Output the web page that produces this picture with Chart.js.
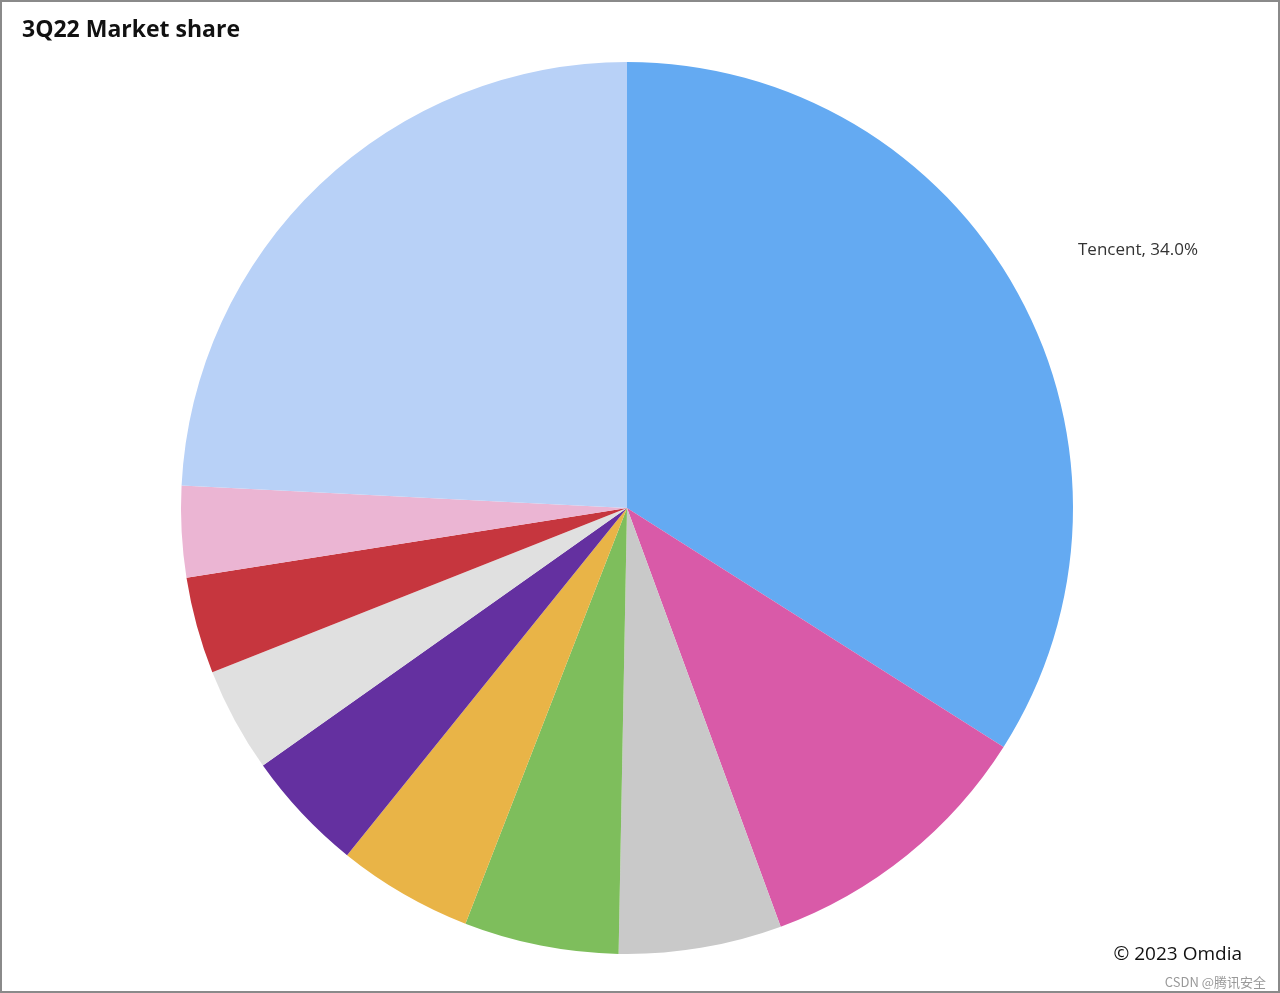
<!DOCTYPE html>
<html><head><meta charset="utf-8">
<script src="https://cdn.jsdelivr.net/npm/chart.js@4/dist/chart.umd.min.js"></script>
<style>
html,body{margin:0;padding:0;background:#fff;}
#wrap{position:relative;width:1280px;height:993px;box-sizing:border-box;border:2px solid #8a8a8a;}
#t{position:absolute;left:20px;top:10px;font:bold 23px "Open Sans",Lato,sans-serif;color:#111;}
#c{position:absolute;right:36px;top:938px;font:19px "Open Sans",sans-serif;color:#111;}
#w{position:absolute;right:12px;top:970px;font:13px "Noto Sans CJK SC",sans-serif;color:#999;}
canvas{position:absolute;left:0;top:0;}
</style></head><body>
<div id="wrap"><canvas id="ch" width="1276" height="989"></canvas>
<div id="t">3Q22 Market share</div><div id="c">© 2023 Omdia</div><div id="w">CSDN @腾讯安全</div></div>
<script>
const categories=["Tencent","Other 1","Other 2","Other 3","Other 4","Other 5","Other 6","Other 7","Other 8","Others"];
const shares=[34.0,10.4,5.9,5.6,4.9,4.4,3.8,3.5,3.3,24.2];
const colors=["#64aaf2","#d95aa8","#c9c9c9","#7ebe5c","#e9b447","#6430a0","#e0e0e0","#c6363e","#ebb5d3","#b8d1f7"];
const labelPlugin={id:"lbl",afterDatasetsDraw(chart){
 const a=chart.getDatasetMeta(0).data[0];const ctx=chart.ctx;
 const mid=(a.startAngle+a.endAngle)/2, r=a.outerRadius*1.2;
 ctx.save();ctx.font='17px "Open Sans",sans-serif';ctx.fillStyle="#333";ctx.textAlign="left";ctx.textBaseline="middle";
 ctx.fillText(categories[0]+", "+shares[0].toFixed(1)+"%",a.x+Math.cos(mid)*r-18,a.y+Math.sin(mid)*r);ctx.restore();}};
new Chart(document.getElementById("ch"),{type:"pie",
 data:{labels:categories,datasets:[{data:shares,backgroundColor:colors,borderWidth:0}]},
 options:{responsive:false,animation:false,layout:{padding:{left:179,right:205,top:59,bottom:36}},
  plugins:{legend:{display:false},tooltip:{enabled:false}}},plugins:[labelPlugin]});
</script></body></html>
